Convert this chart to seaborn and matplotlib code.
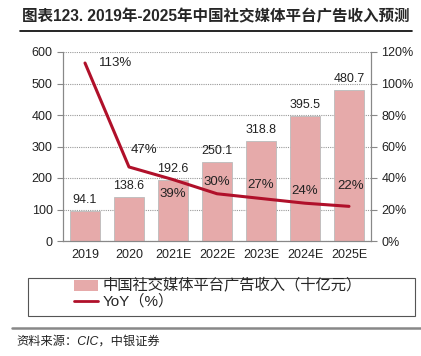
import matplotlib
matplotlib.use("Agg")
import matplotlib.pyplot as plt
import matplotlib.ticker as mticker
from matplotlib.patches import Rectangle
from matplotlib.lines import Line2D
import seaborn as sns
import pandas as pd

# data
years = ["2019", "2020", "2021E", "2022E", "2023E", "2024E", "2025E"]
revenue = [94.1, 138.6, 192.6, 250.1, 318.8, 395.5, 480.7]
yoy = [113, 47, 39, 30, 27, 24, 22]
yoy_offsets = [(14, 0), (15, 17), (0, -14), (0, 12), (0, 13), (0, 12), (2, 20)]

sns.set_style("white")
plt.rcParams["font.family"] = ["Liberation Sans", "Noto Sans CJK SC", "DejaVu Sans"]

bar_color = "#E6AAAA"
line_color = "#B0102A"

df = pd.DataFrame({"year": years, "revenue": revenue, "yoy": yoy})

fig = plt.figure(figsize=(4.21, 3.56), dpi=100)
ax = fig.add_axes([63 / 421, 1 - 241 / 356, 308 / 421, 189 / 356])

sns.barplot(data=df, x="year", y="revenue", color=bar_color, width=0.66,
            edgecolor="#BBBBBB", linewidth=0.6, saturation=1, ax=ax, zorder=2)
ax.set_ylim(0, 600)
ax.set_xlim(-0.5, 6.5)
ax.set_yticks(range(0, 601, 100))
ax.yaxis.grid(True, linestyle=(0, (1, 1)), color="#999999", linewidth=0.8)
ax.set_axisbelow(True)
ax.set_xlabel("")
ax.set_ylabel("")

for i, v in enumerate(revenue):
    ax.annotate(f"{v:.1f}", (i, v), xytext=(0, 5), textcoords="offset pixels",
                ha="center", va="bottom", fontsize=9, color="#222222", zorder=5)

ax2 = ax.twinx()
sns.lineplot(x=list(range(len(years))), y=yoy, color=line_color, linewidth=2.2,
             ax=ax2, zorder=3)
ax2.set_ylim(0, 120)
ax2.set_yticks(range(0, 121, 20))
ax2.yaxis.set_major_formatter(mticker.FuncFormatter(lambda v, p: f"{v:.0f}%"))
ax2.set_ylabel("")

for i, (v, off) in enumerate(zip(yoy, yoy_offsets)):
    ha = "left" if i == 0 else "center"
    ax2.annotate(f"{v}%", (i, v), xytext=off, textcoords="offset pixels",
                 ha=ha, va="center", fontsize=9.5, color="#222222", zorder=5)

# spines and ticks
for a in (ax, ax2):
    a.spines["top"].set_visible(False)
    for s in ("left", "right", "bottom"):
        a.spines[s].set_color("#888888")
        a.spines[s].set_linewidth(0.8)
ax.tick_params(axis="y", direction="out", length=4, color="#888888",
               labelsize=9, left=True, labelcolor="#222222")
ax2.tick_params(axis="y", direction="out", length=4, color="#888888",
                labelsize=9, right=True, labelcolor="#222222")
ax.set_xticks(range(len(years)))
ax.set_xticklabels(years)
ax.tick_params(axis="x", length=0, labelsize=9, pad=6, labelcolor="#222222")
ax.set_xticks([i + 0.5 for i in range(-1, len(years))], minor=True)
ax.tick_params(axis="x", which="minor", direction="out", length=4, color="#888888")

# title and rules
fig.text(22 / 421, 1 - 17 / 356, "图表123. 2019年-2025年中国社交媒体平台广告收入预测",
         fontsize=11.2, fontweight="bold", va="center", ha="left",
         family=["Liberation Sans", "Noto Sans CJK SC"])
fig.add_artist(Line2D([20 / 421, 412 / 421], [1 - 31 / 356, 1 - 31 / 356],
                      color="black", linewidth=1.2))
fig.add_artist(Line2D([12 / 421, 421 / 421], [1 - 328 / 356, 1 - 328 / 356],
                      color="#888888", linewidth=1.8))

# legend box
fig.add_artist(Rectangle((28 / 421, 1 - 316 / 356), 387 / 421, 38 / 356,
                         transform=fig.transFigure, fill=False,
                         edgecolor="#555555", linewidth=0.8))
handles = [Rectangle((0, 0), 1, 1, facecolor=bar_color, edgecolor="none"),
           Line2D([0], [0], color=line_color, linewidth=2)]
labels = ["中国社交媒体平台广告收入（十亿元）", "YoY（%）"]
fig.legend(handles, labels, loc="upper left",
           bbox_to_anchor=(72 / 421, 1 - 277 / 356), frameon=False,
           fontsize=11, handlelength=1.6, handletextpad=0.3,
           labelspacing=0.05, borderaxespad=0, borderpad=0.1)

fig.text(16 / 421, 1 - 342 / 356, "资料来源：CIC，中银证券", fontsize=8.8,
         style="italic", va="center", ha="left", color="#222222")

fig.savefig("out.png", dpi=100)
